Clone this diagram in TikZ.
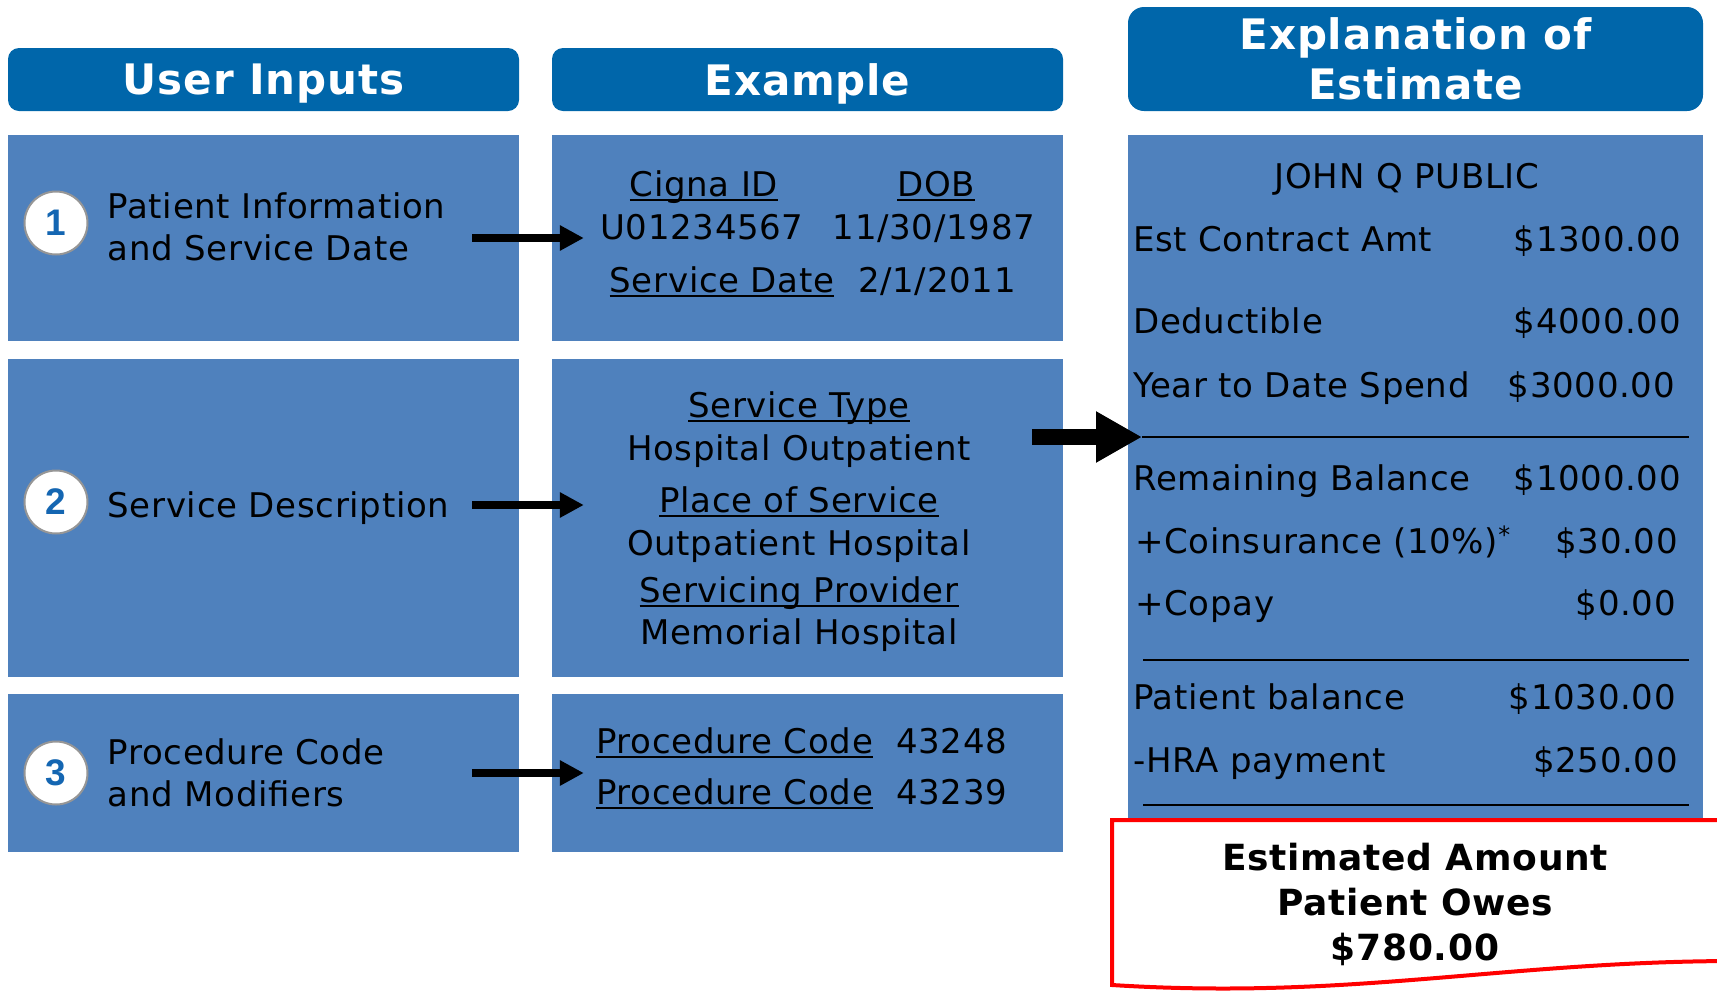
\documentclass[tikz,border=0pt]{standalone}
\usepackage{fontspec}
\setmainfont{DejaVu Sans}[LetterSpace=2]
\newfontfamily\digitfont{Liberation Sans}
\usetikzlibrary{arrows.meta, positioning}
\definecolor{hdrblue}{RGB}{0,102,170}
\definecolor{panelblue}{RGB}{79,129,189}
\definecolor{numblue}{RGB}{20,102,178}
\definecolor{ringgray}{RGB}{150,150,150}
\definecolor{owered}{RGB}{255,0,0}
\newcommand\bodyfont{\fontsize{34pt}{42pt}\selectfont}
\newcommand\hdrfont{\fontsize{42pt}{50pt}\selectfont\bfseries}
\newcommand\owefont{\fontsize{36pt}{45pt}\selectfont\bfseries}
\newcommand\stepfont{\fontsize{37pt}{38pt}\selectfont\digitfont\bfseries}
\newcommand\undl[1]{{\setbox0\hbox{#1}\rlap{\rule[-4.5pt]{\wd0}{2pt}}\box0}}
\tikzset{
  hdr/.style={rectangle, fill=hdrblue, rounded corners=11pt, text=white,
    font=\hdrfont, align=center, inner sep=0pt, text depth=0pt},
  panel/.style={rectangle, fill=panelblue, inner sep=0pt},
  stepnum/.style={circle, fill=white, draw=ringgray, line width=2pt,
    minimum size=63pt, inner sep=0pt, text=numblue, font=\stepfont},
  lbl/.style={font=\bodyfont, align=left, inner sep=0pt, text depth=0pt},
  txt/.style={font=\bodyfont, inner sep=0pt},
  arrow/.style={line width=8pt, -{Triangle[length=24pt, width=24pt]}},
  bigarrow/.style={line width=16pt, -{Triangle[length=46pt, width=48pt]}},
  sepline/.style={line width=2pt}
}

\begin{document}
\begin{tikzpicture}[x=1pt, y=-1pt]
  \useasboundingbox (0,0) rectangle (1717,997);

  \node[hdr, minimum width=511pt, minimum height=63pt] (hdrA) at (263.5,79.5) {User Inputs};
  \node[hdr, minimum width=511pt, minimum height=63pt] (hdrB) at (807.5,79.5) {Example};
  \node[hdr, rounded corners=16pt, minimum width=575pt, minimum height=104pt] (hdrC) at (1415.5,59) {Explanation of\\Estimate};

  \node[panel, minimum width=511pt, minimum height=206pt] (inA) at (263.5,238) {};
  \node[panel, minimum width=511pt, minimum height=318pt] (inB) at (263.5,518) {};
  \node[panel, minimum width=511pt, minimum height=158pt] (inC) at (263.5,773) {};
  \node[panel, minimum width=511pt, minimum height=206pt] (exA) at (807.5,238) {};
  \node[panel, minimum width=511pt, minimum height=318pt] (exB) at (807.5,518) {};
  \node[panel, minimum width=511pt, minimum height=158pt] (exC) at (807.5,773) {};
  \node[panel, minimum width=575pt, minimum height=700pt] (est) at (1415.5,485) {};

  \node[stepnum] (numA) at (56,223) {1};
  \node[stepnum] (numB) at (56,502) {2};
  \node[stepnum] (numC) at (56,773) {3};
  \node[lbl, right=19pt of numA, yshift=-4pt] (txtA) {Patient Information\\and Service Date};
  \node[lbl, right=19pt of numB, yshift=-3pt] (txtB) {Service Description};
  \node[lbl, right=19pt of numC] (txtC) {Procedure Code\\and Modifiers};

  \draw[arrow] ([xshift=-47pt]inA.east) -- ([xshift=32pt]exA.west);
  \draw[arrow] ([xshift=-47pt, yshift=13pt]inB.east) -- ([xshift=32pt, yshift=13pt]exB.west);
  \draw[arrow] ([xshift=-47pt]inC.east) -- ([xshift=32pt]exC.west);

  \node[txt, anchor=base] (idT) at (704,196) {\undl{Cigna ID}};
  \node[txt, anchor=base] (dobT) at (936,196) {\undl{DOB}};
  \node[txt, anchor=base] (idV) at (702,239) {U01234567};
  \node[txt, anchor=base] (dobV) at (934,239) {11/30/1987};
  \node[txt, anchor=base] (sdT) at (722,292) {\undl{Service Date}};
  \node[txt, anchor=base] (sdV) at (937,292) {2/1/2011};

  \node[txt, anchor=base] (stT) at (799,417) {\undl{Service Type}};
  \node[txt, anchor=base] (stV) at (799,460) {Hospital Outpatient};
  \node[txt, anchor=base] (posT) at (799,512) {\undl{Place of Service}};
  \node[txt, anchor=base] (posV) at (799,555) {Outpatient Hospital};
  \node[txt, anchor=base] (spT) at (799,602) {\undl{Servicing Provider}};
  \node[txt, anchor=base] (spV) at (799,644) {Memorial Hospital};

  \node[txt, anchor=base west] (pcT1) at (596,753) {\undl{Procedure Code}};
  \node[txt, anchor=base west] (pcV1) at (896,753) {43248};
  \node[txt, anchor=base west] (pcT2) at (596,804) {\undl{Procedure Code}};
  \node[txt, anchor=base west] (pcV2) at (896,804) {43239};

  \node[txt, anchor=base] (who) at (1407,188) {JOHN Q PUBLIC};
  \node[txt, anchor=base west] (ecT) at (1133,251) {Est Contract Amt};
  \node[txt, anchor=base east] (ecV) at (1681,251) {\$1300.00};
  \node[txt, anchor=base west] (dedT) at (1133,333) {Deductible};
  \node[txt, anchor=base east] (dedV) at (1681,333) {\$4000.00};
  \node[txt, anchor=base west] (ytdT) at (1133,397) {Year to Date Spend};
  \node[txt, anchor=base east] (ytdV) at (1675,397) {\$3000.00};
  \coordinate (sepA) at (1142,437);
  \draw[sepline] (sepA) -- ++(547,0);
  \node[txt, anchor=base west] (remT) at (1133,490) {Remaining Balance};
  \node[txt, anchor=base east] (remV) at (1681,490) {\$1000.00};
  \node[txt, anchor=base west] (coT) at (1135,553) {+Coinsurance (10\%)\textsuperscript{*}};
  \node[txt, anchor=base east] (coV) at (1678,553) {\$30.00};
  \node[txt, anchor=base west] (cpT) at (1135,615) {+Copay};
  \node[txt, anchor=base east] (cpV) at (1676,615) {\$0.00};
  \coordinate (sepB) at (1143,660);
  \draw[sepline] (sepB) -- ++(546,0);
  \node[txt, anchor=base west] (pbT) at (1133,709) {Patient balance};
  \node[txt, anchor=base east] (pbV) at (1676,709) {\$1030.00};
  \node[txt, anchor=base west] (hraT) at (1133,772) {-HRA payment};
  \node[txt, anchor=base east] (hraV) at (1678,772) {\$250.00};
  \coordinate (sepC) at (1143,805);
  \draw[sepline] (sepC) -- ++(546,0);

  \draw[bigarrow] ([xshift=-31pt]exB.east |- sepA) -- (sepA);

  \draw[owered, line width=4pt, fill=white] (1112,820) -- (1730,820) -- (1730,961)
    .. controls (1500,962) and (1350,1000) .. (1112,985) -- cycle;
  \node[font=\owefont, align=center, inner sep=0pt] (owe) at (1415,904) {Estimated Amount\\Patient Owes\\\$780.00};
\end{tikzpicture}
\end{document}
